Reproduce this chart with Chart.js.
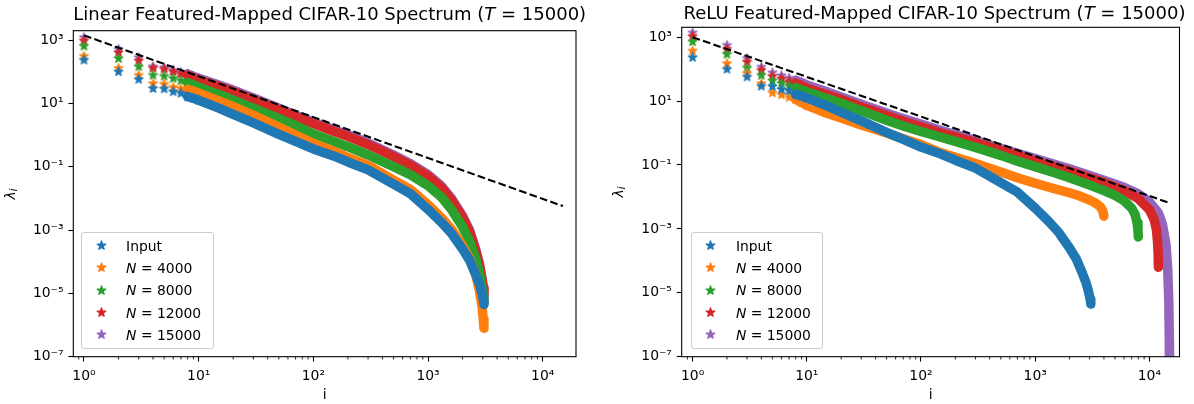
<!DOCTYPE html>
<html>
<head>
<meta charset="utf-8">
<script src="https://cdn.jsdelivr.net/npm/chart.js@4.4.1/dist/chart.umd.min.js"></script>
<style>
  html, body { margin:0; padding:0; background:#ffffff; }
  #fig { position:relative; width:1194px; height:404px; overflow:hidden; font-family:"DejaVu Sans", sans-serif; color:#000; background:#fff; }
  canvas.plot { position:absolute; top:0; }
  .title { position:absolute; font-size:18px; line-height:20px; white-space:nowrap; text-align:center; }
  .ylabel { position:absolute; font-size:13.9px; line-height:16px; white-space:nowrap; transform:translate(-50%,-50%) rotate(-90deg); }
  .ylabel sub { font-size:70%; vertical-align:-0.25em; }
  .legend { position:absolute; box-sizing:border-box; border:1px solid #cccccc; border-radius:3px; background:rgba(255,255,255,0.8); padding:2px 0; font-size:13.9px; }
  .legend .row { display:flex; align-items:center; height:22.3px; white-space:nowrap; }
  .legend .mk { width:27.8px; margin-left:5.6px; margin-right:11px; display:flex; justify-content:center; align-items:center; }
</style>
</head>
<body>
<div id="fig">
  <canvas id="cLin" class="plot" width="600" height="404" style="left:0px;width:600px;height:404px;"></canvas>
  <canvas id="cRelu" class="plot" width="594" height="404" style="left:600px;width:594px;height:404px;"></canvas>
  <div class="title" style="left:73.3px;width:502.7px;top:4.3px;">Linear Featured-Mapped CIFAR-10 Spectrum (<i>T</i> = 15000)</div>
  <div class="title" style="left:681.7px;width:505.6px;top:2.5px;">ReLU Featured-Mapped CIFAR-10 Spectrum (<i>T</i> = 15000)</div>
  <div class="ylabel" style="left:12px;top:193.7px;"><i>λ</i><sub><i>i</i></sub></div>
  <div class="ylabel" style="left:620px;top:192px;"><i>λ</i><sub><i>i</i></sub></div>
  <div id="legLin" class="legend" style="left:80.7px;top:231.5px;width:133px;height:117.8px;"></div>
  <div id="legRelu" class="legend" style="left:690.5px;top:231.5px;width:132px;height:117.8px;"></div>
</div>
<script>
// ---------------- data ----------------
const seriesLabels = ['Input', 'N = 4000', 'N = 8000', 'N = 12000', 'N = 15000'];
const seriesColors = ['#1f77b4', '#ff7f0e', '#2ca02c', '#d62728', '#9467bd'];

const xTickValues = [1, 10, 100, 1000, 10000];
const yTickValues = [1e-7, 1e-5, 1e-3, 1e-1, 1e1, 1e3];
const xMinorDecades = [0.1, 1, 10, 100, 1000, 10000];
const xMinorSubs = [2, 3, 4, 5, 6, 7, 8, 9];

// eigen-index positions sampled along the Input / linear spectra
const inputI = [1,2,3,4,5,6,7,8,9,10,15,20,30,50,70,100,150,200,300,500,700,1000,1300,1600,2000,2300,2600,2800,2950,3030,3072];
const inputVals = [234,100,57.5,29.5,28.8,23.4,20.9,16.2,14.5,12.6,7.08,4.47,2.40,1.05,0.631,0.363,0.219,0.141,7.94e-2,2.82e-2,1.41e-2,4.47e-3,1.78e-3,7.94e-4,2.51e-4,1.12e-4,3.98e-5,2.00e-5,1.00e-5,6.31e-6,4.47e-6];

// Linear feature map
const linI = [1,2,3,4,5,6,7,8,9,10,15,20,30,50,70,100,150,200,300,500,700,1000,1300,1600,2000,2300,2600,2800,2950,3030,3072];
const lin4000 = [309,129,77.6,42.7,40.7,32.4,29.5,27.5,24.0,20.9,12.0,7.94,4.17,1.78,1.00,0.537,0.309,0.195,0.110,3.80e-2,1.91e-2,6.31e-3,2.51e-3,1.07e-3,3.16e-4,1.26e-4,3.98e-5,1.26e-5,3.98e-6,1.58e-6,7.94e-7];
const lin8000 = [646,263,145,77.6,72.4,61.7,52.5,44.7,38.0,32.4,19.1,12.6,7.08,3.31,2.00,1.07,0.631,0.427,0.234,0.100,5.62e-2,2.51e-2,1.12e-2,4.47e-3,1.26e-3,4.47e-4,1.26e-4,4.47e-5,1.58e-5,7.94e-6,5.01e-6];
const lin12000 = [955,407,224,129,120,100,85.1,77.6,63.1,55.0,33.9,23.4,13.2,6.31,3.80,2.29,1.32,0.912,0.501,0.209,0.112,5.01e-2,2.24e-2,8.91e-3,2.51e-3,8.91e-4,2.24e-4,7.94e-5,2.82e-5,1.41e-5,8.91e-6];
const lin15000 = [1202,513,282,145,135,112,95.5,85.1,70.8,61.7,38.0,26.3,14.8,7.08,4.27,2.57,1.48,1.02,0.562,0.234,0.126,5.62e-2,2.51e-2,1.00e-2,2.82e-3,1.00e-3,2.51e-4,8.91e-5,3.16e-5,1.58e-5,1.00e-5];
const linFitI = [1, 15000];
const linFitVals = [1400, 5.7e-3];

// ReLU feature map
const reluI4000 = [1,2,3,4,5,6,7,8,9,10,15,20,30,50,70,100,150,200,300,500,700,1000,1500,2000,2500,3000,3400,3700,3900,4000];
const relu4000 = [372,151,74.1,35.5,18.2,15.8,13.2,11.2,9.12,7.41,4.17,2.95,1.78,1.00,0.661,0.437,0.240,0.174,0.112,6.03e-2,3.98e-2,2.69e-2,1.78e-2,1.35e-2,1.05e-2,7.94e-3,6.31e-3,5.01e-3,3.80e-3,2.51e-3];
const reluI8000 = [1,2,3,4,5,6,7,8,9,10,15,20,30,50,70,100,150,200,300,500,700,1000,1500,2000,3000,4000,5000,6000,7000,7500,7800,7950,8000];
const relu8000 = [724,295,110,64.6,43.7,36.3,30.2,26.3,22.4,19.5,12.0,8.51,5.01,2.51,1.66,1.12,0.741,0.550,0.355,0.200,0.132,8.91e-2,5.62e-2,3.98e-2,2.34e-2,1.58e-2,1.12e-2,7.59e-3,4.47e-3,2.82e-3,1.58e-3,8.91e-4,5.62e-4];
const reluI12000 = [1,2,3,4,5,6,7,8,9,10,15,20,30,50,70,100,150,200,300,500,700,1000,2000,4000,6000,8000,10000,11000,11500,11800,11950,12000];
const relu12000 = [1072,427,170,93.3,60.3,50.1,41.7,36.3,30.2,25.1,15.8,11.2,6.61,3.55,2.34,1.58,1.00,0.759,0.501,0.282,0.200,0.132,6.31e-2,2.82e-2,1.58e-2,8.91e-3,3.98e-3,2.00e-3,1.00e-3,3.98e-4,1.58e-4,6.31e-5];
const reluI15000 = [1,2,3,4,5,6,7,8,9,10,15,20,30,50,70,100,150,200,300,500,700,1000,2000,4000,6000,8000,10000,12000,13000,14000,14500,14800,14950,15000];
const relu15000 = [1380,562,219,117,77.6,63.1,52.5,44.7,38.0,31.6,19.5,13.5,7.94,4.27,2.82,1.91,1.20,0.891,0.589,0.331,0.234,0.158,7.59e-2,3.31e-2,2.00e-2,1.26e-2,7.08e-3,3.16e-3,1.41e-3,3.16e-4,5.01e-5,5.01e-6,3.16e-7,1.00e-8];
const reluFitI = [1, 15000];
const reluFitVals = [1000, 6.5e-3];

// ---------------- helpers ----------------
const FONT = 'DejaVu Sans';
const SUP = {'-':'⁻','0':'⁰','1':'¹','2':'²','3':'³','4':'⁴','5':'⁵','6':'⁶','7':'⁷','8':'⁸','9':'⁹'};
function pow10Label(v){
  const e = Math.round(Math.log10(v));
  return '10' + String(e).split('').map(c => SUP[c]).join('');
}
function starCanvas(color, R){
  const s = Math.ceil(2*R + 4);
  const c = document.createElement('canvas');
  c.width = s; c.height = s;
  const g = c.getContext('2d');
  g.beginPath();
  for (let k = 0; k < 10; k++){
    const r = (k % 2) ? R*0.382 : R;
    const a = -Math.PI/2 + k*Math.PI/5;
    const px = s/2 + r*Math.cos(a), py = s/2 + r*Math.sin(a);
    if (k) g.lineTo(px, py); else g.moveTo(px, py);
  }
  g.closePath();
  g.fillStyle = color; g.fill();
  g.lineWidth = 1.4; g.strokeStyle = color; g.lineJoin = 'round'; g.stroke();
  return c;
}
function bandDataset(label, color, xs, ys, order){
  const star = starCanvas(color, 4.5);
  return {
    label, order,
    data: xs.map((x, k) => ({x, y: ys[k]})),
    showLine: true,
    borderColor: color, backgroundColor: color,
    borderWidth: 9.5, borderCapStyle: 'round', borderJoinStyle: 'round',
    tension: 0,
    pointStyle: star,
    pointRadius: ctx => (xs[ctx.dataIndex] !== undefined && xs[ctx.dataIndex] <= 10 ? 5 : 0),
    pointHoverRadius: 0,
    segment: { borderColor: ctx => (xs[ctx.p0DataIndex] < 8 ? 'rgba(0,0,0,0)' : color) },
    clip: 0
  };
}
function fitDataset(xs, ys){
  return {
    label: '', order: 0, isFit: true,
    data: xs.map((x, k) => ({x, y: ys[k]})),
    showLine: true, borderColor: '#000000', borderWidth: 2.08, borderDash: [7.7, 3.3],
    pointRadius: 0, pointHoverRadius: 0, tension: 0, clip: 0
  };
}
const framePlugin = {
  id: 'frame',
  afterDatasetsDraw(chart){
    const {ctx, chartArea: a} = chart;
    const x = chart.scales.x;
    ctx.save();
    ctx.strokeStyle = '#000'; ctx.lineWidth = 0.85;
    for (const d of xMinorDecades){
      for (const m of xMinorSubs){
        const px = x.getPixelForValue(m*d);
        if (px < a.left || px > a.right) continue;
        ctx.beginPath(); ctx.moveTo(px, a.bottom); ctx.lineTo(px, a.bottom + 2.8); ctx.stroke();
      }
    }
    ctx.lineWidth = 1.1;
    ctx.strokeRect(a.left, a.top, a.right - a.left, a.bottom - a.top);
    ctx.restore();
  }
};
function makeChart(id, datasets, g){
  return new Chart(document.getElementById(id), {
    type: 'scatter',
    data: { datasets },
    plugins: [framePlugin],
    options: {
      responsive: false, animation: false, events: [],
      layout: { padding: { left: 0, right: g.padR, top: g.padT, bottom: 0 } },
      plugins: { legend: { display: false }, title: { display: false }, tooltip: { enabled: false } },
      scales: {
        x: {
          type: 'logarithmic', position: 'bottom', min: g.xmin, max: g.xmax, bounds: 'data',
          afterBuildTicks: s => { s.ticks = xTickValues.map(v => ({value: v})); },
          afterFit: s => { s.height = g.xAxisH; },
          ticks: { callback: v => pow10Label(v), autoSkip: false, maxRotation: 0, padding: 6.5, color: '#000', font: { family: FONT, size: 13.9 } },
          grid: { display: true, drawOnChartArea: false, drawTicks: true, tickLength: 4.9, tickWidth: 1.1, tickColor: '#000' },
          border: { display: false },
          title: { display: true, text: 'i', color: '#000', font: { family: FONT, size: 13.9 }, padding: { top: 0, bottom: 0 } }
        },
        y: {
          type: 'logarithmic', position: 'left', min: g.ymin, max: g.ymax, bounds: 'data',
          afterBuildTicks: s => { s.ticks = yTickValues.map(v => ({value: v})); },
          afterFit: s => { s.width = g.yAxisW; },
          ticks: { callback: v => pow10Label(v), autoSkip: false, padding: 4.9, color: '#000', font: { family: FONT, size: 13.9 } },
          grid: { display: true, drawOnChartArea: false, drawTicks: true, tickLength: 4.9, tickWidth: 1.1, tickColor: '#000' },
          border: { display: false }
        }
      }
    }
  });
}
function buildLegend(divId, chart){
  const div = document.getElementById(divId);
  chart.data.datasets.filter(d => !d.isFit).forEach(d => {
    const row = document.createElement('div'); row.className = 'row';
    const mk = document.createElement('div'); mk.className = 'mk';
    mk.appendChild(starCanvas(d.borderColor, 4.5));
    const lab = document.createElement('span');
    lab.innerHTML = d.label.replace(/^N /, '<i>N</i> ');
    row.appendChild(mk); row.appendChild(lab);
    div.appendChild(row);
  });
}

// ---------------- charts ----------------
// drawing order: the dashed fit on top, then Input, N=4000, ... with N=15000 lowest
const linDatasets = [
  bandDataset(seriesLabels[0], seriesColors[0], inputI, inputVals, 1),
  bandDataset(seriesLabels[1], seriesColors[1], linI, lin4000, 2),
  bandDataset(seriesLabels[2], seriesColors[2], linI, lin8000, 3),
  bandDataset(seriesLabels[3], seriesColors[3], linI, lin12000, 4),
  bandDataset(seriesLabels[4], seriesColors[4], linI, lin15000, 5),
  fitDataset(linFitI, linFitVals)
];
const reluDatasets = [
  bandDataset(seriesLabels[0], seriesColors[0], inputI, inputVals, 1),
  bandDataset(seriesLabels[1], seriesColors[1], reluI4000, relu4000, 2),
  bandDataset(seriesLabels[2], seriesColors[2], reluI8000, relu8000, 3),
  bandDataset(seriesLabels[3], seriesColors[3], reluI12000, relu12000, 4),
  bandDataset(seriesLabels[4], seriesColors[4], reluI15000, relu15000, 5),
  fitDataset(reluFitI, reluFitVals)
];
const chartLin = makeChart('cLin', linDatasets, {
  padR: 24, padT: 30.7, xAxisH: 47.3, yAxisW: 73.3,
  xmin: 0.807, xmax: 19500, ymin: 1e-7, ymax: 1968
});
const chartRelu = makeChart('cRelu', reluDatasets, {
  padR: 6.7, padT: 27.3, xAxisH: 47.3, yAxisW: 81.7,
  xmin: 0.803, xmax: 18365, ymin: 1e-7, ymax: 2040
});
buildLegend('legLin', chartLin);
buildLegend('legRelu', chartRelu);
</script>
</body>
</html>
